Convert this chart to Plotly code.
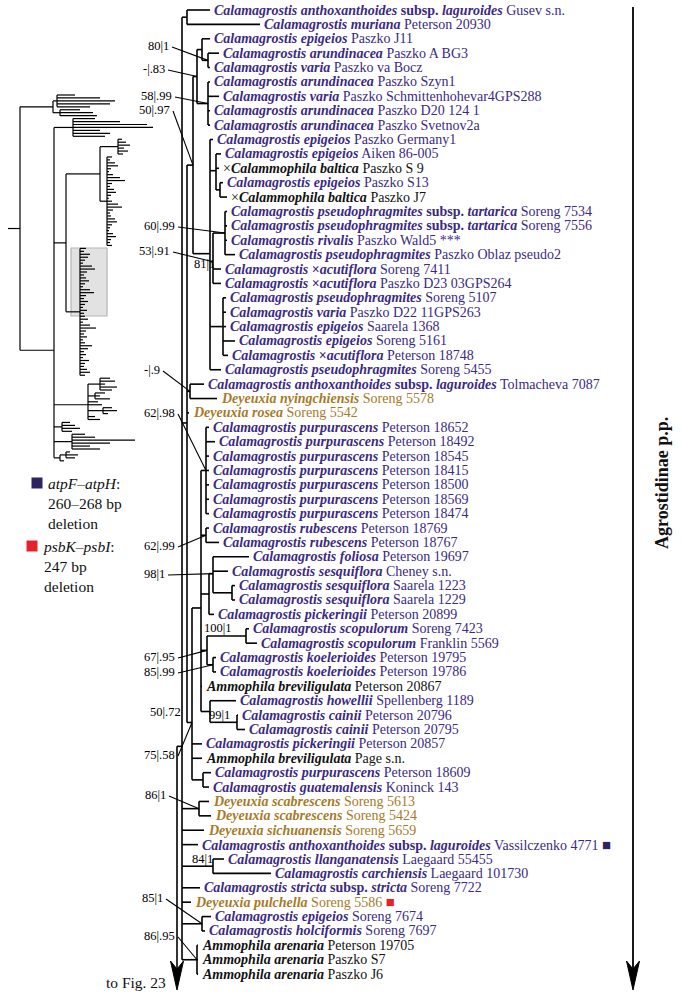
import plotly.graph_objects as go

# ------------------------------------------------------------------ data
CAL = "<b><i>Calamagrostis {}</i></b>"
taxon = [
    "<b><i>Calamagrostis anthoxanthoides</i> subsp. <i>laguroides</i></b>",
    CAL.format("muriana"), CAL.format("epigeios"), CAL.format("arundinacea"),
    CAL.format("varia"), CAL.format("arundinacea"), CAL.format("varia"),
    CAL.format("arundinacea"), CAL.format("arundinacea"), CAL.format("epigeios"),
    CAL.format("epigeios"), "×<b><i>Calammophila baltica</i></b>", CAL.format("epigeios"),
    "×<b><i>Calammophila baltica</i></b>",
    "<b><i>Calamagrostis pseudophragmites</i> subsp. <i>tartarica</i></b>",
    "<b><i>Calamagrostis pseudophragmites</i> subsp. <i>tartarica</i></b>",
    CAL.format("rivalis"), CAL.format("pseudophragmites"),
    "<b><i>Calamagrostis</i> ×<i>acutiflora</i></b>", "<b><i>Calamagrostis</i> ×<i>acutiflora</i></b>",
    CAL.format("pseudophragmites"), CAL.format("varia"), CAL.format("epigeios"),
    CAL.format("epigeios"), "<b><i>Calamagrostis</i> ×<i>acutiflora</i></b>",
    CAL.format("pseudophragmites"),
    "<b><i>Calamagrostis anthoxanthoides</i> subsp. <i>laguroides</i></b>",
    "<b><i>Deyeuxia nyingchiensis</i></b>", "<b><i>Deyeuxia rosea</i></b>",
    CAL.format("purpurascens"), CAL.format("purpurascens"), CAL.format("purpurascens"),
    CAL.format("purpurascens"), CAL.format("purpurascens"), CAL.format("purpurascens"),
    CAL.format("purpurascens"), CAL.format("rubescens"), CAL.format("rubescens"),
    CAL.format("foliosa"), CAL.format("sesquiflora"), CAL.format("sesquiflora"),
    CAL.format("sesquiflora"), CAL.format("pickeringii"), CAL.format("scopulorum"),
    CAL.format("scopulorum"), CAL.format("koelerioides"), CAL.format("koelerioides"),
    "<b><i>Ammophila breviligulata</i></b>", CAL.format("howellii"), CAL.format("cainii"),
    CAL.format("cainii"), CAL.format("pickeringii"), "<b><i>Ammophila breviligulata</i></b>",
    CAL.format("purpurascens"), CAL.format("guatemalensis"),
    "<b><i>Deyeuxia scabrescens</i></b>", "<b><i>Deyeuxia scabrescens</i></b>",
    "<b><i>Deyeuxia sichuanensis</i></b>",
    "<b><i>Calamagrostis anthoxanthoides</i> subsp. <i>laguroides</i></b>",
    CAL.format("llanganatensis"), CAL.format("carchiensis"),
    "<b><i>Calamagrostis stricta</i> subsp. <i>stricta</i></b>",
    "<b><i>Deyeuxia pulchella</i></b>", CAL.format("epigeios"), CAL.format("holciformis"),
    "<b><i>Ammophila arenaria</i></b>", "<b><i>Ammophila arenaria</i></b>",
    "<b><i>Ammophila arenaria</i></b>",
]
voucher = [
    "Gusev s.n.", "Peterson 20930", "Paszko J11", "Paszko A BG3", "Paszko va Bocz",
    "Paszko Szyn1", "Paszko Schmittenhohevar4GPS288", "Paszko D20 124 1", "Paszko Svetnov2a",
    "Paszko Germany1", "Aiken 86-005", "Paszko S 9", "Paszko S13", "Paszko J7",
    "Soreng 7534", "Soreng 7556", "Paszko Wald5 ***", "Paszko Oblaz pseudo2",
    "Soreng 7411", "Paszko D23 03GPS264", "Soreng 5107", "Paszko D22 11GPS263",
    "Saarela 1368", "Soreng 5161", "Peterson 18748", "Soreng 5455", "Tolmacheva 7087",
    "Soreng 5578", "Soreng 5542", "Peterson 18652", "Peterson 18492", "Peterson 18545",
    "Peterson 18415", "Peterson 18500", "Peterson 18569", "Peterson 18474",
    "Peterson 18769", "Peterson 18767", "Peterson 19697", "Cheney s.n.", "Saarela 1223",
    "Saarela 1229", "Peterson 20899", "Soreng 7423", "Franklin 5569", "Peterson 19795",
    "Peterson 19786", "Peterson 20867", "Spellenberg 1189", "Peterson 20796",
    "Peterson 20795", "Peterson 20857", "Page s.n.", "Peterson 18609", "Koninck 143",
    "Soreng 5613", "Soreng 5424", "Soreng 5659", "Vassilczenko 4771", "Laegaard 55455",
    "Laegaard 101730", "Soreng 7722", "Soreng 5586", "Soreng 7674", "Soreng 7697",
    "Peterson 19705", "Paszko S7", "Paszko J6",
]
# C = Calamagrostis (purple), D = Deyeuxia (brown), A = Ammophila / xCalammophila (black)
group = list("CCCCCCCCCCC" "A" "C" "A" "CCCCCCCCCCCCC" "DD" "CCCCCCCCCCCCCCCCCC" "A"
             "CCCC" "A" "CC" "DDD" "CCCC" "D" "CC" "AAA")
# tip position of each terminal branch (tree depth units)
tip = [210, 260, 210, 219, 210, 210, 219, 210, 210, 213, 221, 219, 223, 227, 227, 227,
       227, 235, 221, 221, 226, 226, 226, 235, 228, 221, 204, 217, 189, 209, 215, 209,
       209, 209, 209, 209, 209, 219, 249, 228, 235, 235, 214, 249, 257, 216, 216, 202,
       236, 238, 245, 202, 202, 211, 209, 209, 211, 204, 198, 224, 271, 200, 191, 211,
       205, 198, 198, 198]
# deletion flags (terminal index -> kind)
flag_rows = [58, 62]
flag_kind = ["atp", "psb"]

# internal nodes: name, depth, children (int = terminal index, str = node)
node_name = ["n_ar1", "n_j11", "n_ar2", "n_ar", "n_cb", "n_aik", "n_pse", "n_acu", "n_ep5",
             "n_epi", "n_eur", "n_tol", "n_purp", "n_rub", "n_ses", "n_fol", "n_fol2",
             "n_sco", "n_koe", "n_sk", "n_cai", "n_how", "n_B", "n_pg", "n_D", "n_top",
             "n_g", "n_scab", "n_lla", "n_eh", "n_are", "n_all"]
node_depth = [208, 202, 208, 197, 220, 216, 225, 213, 223, 210, 193, 190, 206, 206, 232,
              213, 209, 246, 213, 207, 237, 210, 201, 203, 192, 187, 187, 199, 213, 202,
              197, 182]
node_kids = [
    [3, 4], [2, "n_ar1"], [5, 6, 7, 8], ["n_j11", "n_ar2"], [12, 13], [10, 11, "n_cb"],
    [14, 15, 16, 17], ["n_pse", 18, 19], [20, 21, 22, 23, 24],
    [9, "n_aik", "n_acu", "n_ep5", 25], ["n_ar", "n_epi"], [26, 27],
    [29, 30, 31, 32, 33, 34, 35], [36, 37], [40, 41], [38, 39, "n_ses"], ["n_fol", 42],
    [43, 44], [45, 46], ["n_sco", "n_koe"], [49, 50], [48, "n_cai"],
    ["n_purp", "n_rub", "n_fol2", "n_sk", 47, "n_how"], [53, 54],
    ["n_B", 51, 52, "n_pg"], ["n_eur", "n_tol", 28, "n_D"], [0, 1], [55, 56], [59, 60],
    [63, 64], [65, 66, 67],
    ["n_g", "n_top", "n_scab", 57, 58, "n_lla", 61, 62, "n_eh", "n_are"],
]
root_depth = 177

# support values (bootstrap | posterior) and the node they label
support_text = ["80|1", "-|.83", "58|.99", "50|.97", "81|1", "60|.99", "53|.91", "-|.9",
                "62|.98", "62|.99", "98|1", "100|1", "67|.95", "85|.99", "50|.72", "99|1",
                "75|.58", "86|1", "84|1", "85|1", "86|.95"]
support_node = ["n_ar1", "n_ar", "n_ar2", "n_eur", "n_epi", "n_pse", "n_acu", "n_tol",
                "n_purp", "n_rub", "n_fol", "n_sco", "n_sk", "n_koe", "root", "n_cai",
                "n_D", "n_scab", "n_lla", "n_eh", "n_are"]

# overview thumbnail of the whole tree: [node depth, child, child, ...]; numbers are tips
thumb_tree = [20,
  [53, [57, 75, 100, 115, 110, 90], [60, 80, 93, 97]],
  [54,
   [73, 95, 120, 147, 153, 100, 110, 105],
   [66,
    [82,
     [100, [118, 122, 126, 130, 124, 128, 123],
      [107, 112, 110, 115, 118, 111, 109, 113, 120, 125, 112, 110, 114, 116, 111, 109,
       112, 118, 122, 113, 110, 111, 115, 117, 112, 110, 109, 113, 116, 111, 110, 112]]],
    [80, 86, 84, 90, 88, 85, 83, 92, 95, 87, 84, 86, 89, 85, 83, 90, 94, 86, 84, 88, 85,
     83, 87, 84, 85, 88, 83, 90, 96, 86, 84, 87, 83, 85, 92, 88, 84, 86, 83, 89, 85, 84,
     87, 90, 85]],
   [88, [100, 110, 115, 105, 117, 112], [95, 105, 100, 110], 98, 102,
    [103, 112, 117, 108], 95, 100],
   [62, 70, 75, 80, 72],
   [72, 85, 95, 135, 110, 90, 100],
   [60, [66, 70, 78, 75], 64]]]

# ------------------------------------------------------------------ layout constants
W, H = 683, 999
ROW0, ROWSTEP = 10.0, 14.39
FONT = "Liberation Serif"
COLORS = {"C": "#3b2a82", "D": "#a77a27", "A": "#111111"}
FLAG_COLORS = {"atp": "#2e2263", "psb": "#e5222b"}
ARROW_END = 990

leaf_y = [ROW0 + i * ROWSTEP for i in range(len(taxon))]
nodes = {n: (d, k) for n, d, k in zip(node_name, node_depth, node_kids)}

seg_x, seg_y = [], []
def seg(x0, y0, x1, y1, xs=seg_x, ys=seg_y):
    xs += [x0, x1, None]
    ys += [y0, y1, None]

pos = {}
def place(ref):
    if isinstance(ref, int):
        return tip[ref], leaf_y[ref]
    if ref in pos:
        return pos[ref]
    d, kids = nodes[ref]
    kp = [place(k) for k in kids]
    ys = [p[1] for p in kp]
    y = sum(ys) / len(ys)
    seg(d, min(ys), d, max(ys))
    for kx, ky in kp:
        seg(d, ky, kx, ky)
    pos[ref] = (d, y)
    return pos[ref]

ax, ay = place("n_all")
seg(root_depth, ay, ax, ay)
seg(root_depth, ay, root_depth, ARROW_END - 22)
pos["root"] = (root_depth, ay)

fig = go.Figure()
fig.add_trace(go.Scatter(x=seg_x, y=seg_y, mode="lines",
                         line=dict(color="black", width=1.6), hoverinfo="skip"))

# arrowheads (root continuation and right-hand bracket)
def arrowhead(xc, tip_y):
    return ([xc - 6.5, xc, xc + 6.5, xc, xc - 6.5],
            [tip_y - 29, tip_y - 21, tip_y - 29, tip_y, tip_y - 29])
for xc in (root_depth, 633):
    hx, hy = arrowhead(xc, ARROW_END)
    fig.add_trace(go.Scatter(x=hx, y=hy, mode="lines", fill="toself", fillcolor="black",
                             line=dict(color="black", width=1), hoverinfo="skip"))
fig.add_trace(go.Scatter(x=[633, 633], y=[7, ARROW_END - 22], mode="lines",
                         line=dict(color="black", width=1.8), hoverinfo="skip"))

# thumbnail
tx, ty = [], []
t_counter = [0]
T_ROW0, T_STEP = 95, 2.95
def tplace(t):
    if not isinstance(t, list):
        y = T_ROW0 + t_counter[0] * T_STEP
        t_counter[0] += 1
        return t, y
    d = t[0]
    kp = [tplace(c) for c in t[1:]]
    ys = [p[1] for p in kp]
    seg(d, min(ys), d, max(ys), tx, ty)
    for kx, ky in kp:
        seg(d, ky, kx, ky, tx, ty)
    return d, sum(ys) / len(ys)
trx, tr_y = tplace(thumb_tree)
seg(8, tr_y, trx, tr_y, tx, ty)
fig.add_shape(type="rect", x0=71, x1=107, y0=248, y1=316, fillcolor="#e2e2e2",
              line=dict(color="#b5b5b5", width=1.2), layer="below")
fig.add_trace(go.Scatter(x=tx, y=ty, mode="lines", line=dict(color="black", width=1.2),
                         hoverinfo="skip"))

# support pointers
label_anchor = {  # right edge / centre of each support label
    "80|1": (171, 46), "-|.83": (167, 69), "58|.99": (174, 96), "50|.97": (172, 110),
    "60|.99": (177, 226), "53|.91": (172, 251), "-|.9": (162, 370), "62|.98": (177, 413),
    "62|.99": (177, 546), "98|1": (167, 574), "67|.95": (177, 657), "85|.99": (177, 672),
    "75|.58": (177, 755), "86|1": (168, 795), "85|1": (165, 898), "86|.95": (177, 936),
}
direct_anchor = {"81|1": (-6, 10), "100|1": (-28, -8), "99|1": (-18, -7), "84|1": (-11, -7),
                 "50|.72": (-12, -34)}
px, py = [], []
anns = []
for txt, nd in zip(support_text, support_node):
    nx, ny = pos[nd]
    if txt in label_anchor:
        lx, ly = label_anchor[txt]
        seg(lx + 1, ly + 1, nx, ny, px, py)
        anns.append(dict(x=lx, y=ly, text=txt, xanchor="right", yanchor="middle",
                         font=dict(size=12.5, family=FONT, color="black"), showarrow=False))
    else:
        dx, dy = direct_anchor[txt]
        anns.append(dict(x=nx + dx, y=ny + dy, text=txt, xanchor="center", yanchor="middle",
                         font=dict(size=12.5, family=FONT, color="black"), showarrow=False))
fig.add_trace(go.Scatter(x=px, y=py, mode="lines", line=dict(color="black", width=1.1),
                         hoverinfo="skip"))

# taxon labels
for i, (t, v, g) in enumerate(zip(taxon, voucher, group)):
    txt = f"{t} {v}"
    if i in flag_rows:
        k = flag_kind[flag_rows.index(i)]
        txt += f' <span style="color:{FLAG_COLORS[k]};font-size:15px">■</span>'
    anns.append(dict(x=tip[i] + 2, y=leaf_y[i], text=txt, xanchor="left", yanchor="middle",
                     font=dict(size=14, family=FONT, color=COLORS[g]), showarrow=False))

# legend for deletions
leg = [("atp", "<i>atpF–atpH</i>:<br>260–268 bp<br>deletion", 483),
       ("psb", "<i>psbK–psbI</i>:<br>247 bp<br>deletion", 546)]
for k, text, y in leg:
    sx = 37 if k == "atp" else 32
    fig.add_shape(type="rect", x0=sx - 5.5, x1=sx + 5.5, y0=y - 5.5, y1=y + 5.5,
                  fillcolor=FLAG_COLORS[k], line=dict(width=0))
    anns.append(dict(x=sx + 9, y=y - 10, text=text, xanchor="left", yanchor="top",
                     align="left", font=dict(size=15.5, family=FONT, color="#111"),
                     showarrow=False))

anns.append(dict(x=168, y=982, text="to Fig. 23", xanchor="right", yanchor="middle",
                 font=dict(size=15.5, family=FONT, color="#111"), showarrow=False))
anns.append(dict(x=662, y=483, text="<b>Agrostidinae p.p.</b>", textangle=-90,
                 xanchor="center", yanchor="middle",
                 font=dict(size=18, family=FONT, color="#111"), showarrow=False))

fig.update_layout(
    width=W, height=H, margin=dict(l=0, r=0, t=0, b=0),
    paper_bgcolor="white", plot_bgcolor="white", showlegend=False,
    xaxis=dict(range=[0, W], visible=False, fixedrange=True),
    yaxis=dict(range=[H, 0], visible=False, fixedrange=True),
    annotations=anns,
)
fig.write_html("out.html", config={"displayModeBar": False},
               post_script="document.body.style.margin='0';")
